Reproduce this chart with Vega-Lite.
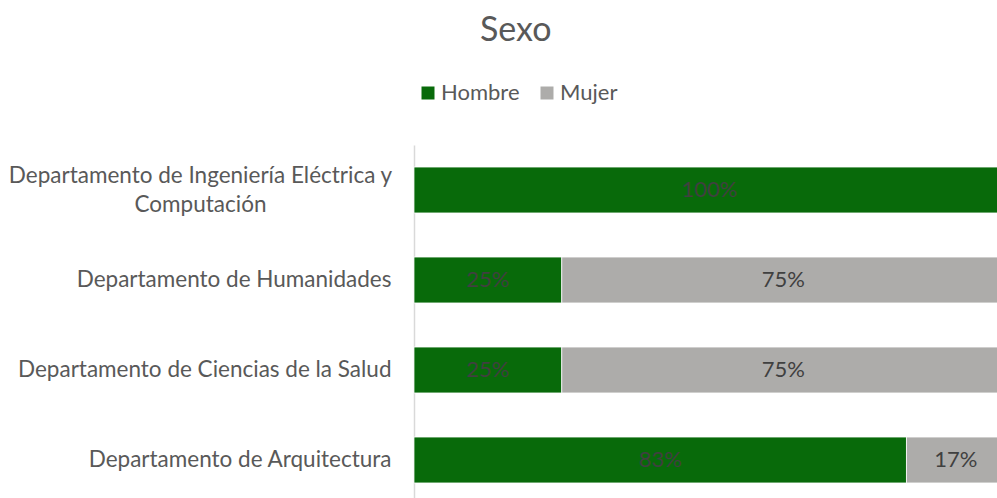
{
  "$schema": "https://vega.github.io/schema/vega-lite/v6.json",
  "width": 591,
  "height": 360,
  "autosize": {"type": "none"},
  "padding": {"left": 414, "top": 145, "right": 0, "bottom": 0},
  "background": "#ffffff",
  "config": {"view": {"stroke": null}, "font": "Lato"},
  "title": {
    "text": "Sexo",
    "fontSize": 34,
    "font": "Lato",
    "fontWeight": "normal",
    "color": "#595959",
    "anchor": "start",
    "frame": "group",
    "dx": 66,
    "offset": 34
  },
  "data": {
    "values": [
      {"dept": "Departamento de Ingeniería Eléctrica y Computación", "sexo": "Hombre", "value": 1.0},
      {"dept": "Departamento de Ingeniería Eléctrica y Computación", "sexo": "Mujer", "value": 0.0},
      {"dept": "Departamento de Humanidades", "sexo": "Hombre", "value": 0.25},
      {"dept": "Departamento de Humanidades", "sexo": "Mujer", "value": 0.75},
      {"dept": "Departamento de Ciencias de la Salud", "sexo": "Hombre", "value": 0.25},
      {"dept": "Departamento de Ciencias de la Salud", "sexo": "Mujer", "value": 0.75},
      {"dept": "Departamento de Arquitectura", "sexo": "Hombre", "value": 0.8333},
      {"dept": "Departamento de Arquitectura", "sexo": "Mujer", "value": 0.1667}
    ]
  },
  "transform": [
    {"stack": "value", "groupby": ["dept"], "sort": [{"field": "sexo", "order": "ascending"}], "offset": "normalize", "as": ["v0", "v1"]}
  ],
  "encoding": {
    "y": {
      "field": "dept",
      "type": "nominal",
      "sort": null,
      "scale": {"paddingInner": 0.49, "paddingOuter": 0.245},
      "axis": {
        "title": null,
        "ticks": false,
        "domainColor": "#D9D9D9",
        "domainWidth": 1.5,
        "labelFont": "Lato",
        "labelFontSize": 22.5,
        "labelColor": "#595959",
        "labelLimit": 500,
        "labelLineHeight": 29,
        "labelAlign": {"condition": {"test": "length(datum.label) > 40", "value": "center"}, "value": "right"},
        "labelPadding": {"condition": {"test": "length(datum.label) > 40", "value": 214}, "value": 23},
        "labelOffset": {"condition": {"test": "length(datum.label) > 40", "value": -14}, "value": 0},
        "labelExpr": "length(datum.label) > 40 ? ['Departamento de Ingeniería Eléctrica y', 'Computación'] : datum.label"
      }
    }
  },
  "layer": [
    {
      "mark": {"type": "bar", "stroke": "#ffffff", "strokeWidth": 0.75},
      "encoding": {
        "x": {"field": "v0", "type": "quantitative", "scale": {"domain": [0, 1]}, "axis": null},
        "x2": {"field": "v1"},
        "color": {
          "field": "sexo",
          "type": "nominal",
          "scale": {"domain": ["Hombre", "Mujer"], "range": ["#086A0A", "#ADACAA"]},
          "legend": {
            "title": null,
            "orient": "none",
            "legendX": 3,
            "legendY": -63,
            "direction": "horizontal",
            "symbolType": "square",
            "symbolSize": 169,
            "symbolStrokeWidth": 0,
            "labelFont": "Lato",
            "labelFontSize": 22,
            "labelColor": "#595959",
            "labelOffset": 2,
            "columnPadding": 16
          }
        }
      }
    },
    {
      "transform": [
        {"filter": "datum.value > 0"},
        {"fold": ["v0", "v1"], "as": ["edge", "pos"]},
        {"aggregate": [{"op": "mean", "field": "pos", "as": "mid"}], "groupby": ["dept", "sexo", "value"]}
      ],
      "mark": {"type": "text", "fontSize": 22, "font": "Lato", "color": "#404040", "baseline": "middle", "align": "center"},
      "encoding": {
        "x": {"field": "mid", "type": "quantitative"},
        "text": {"field": "value", "type": "quantitative", "format": ".0%"}
      }
    }
  ]
}
